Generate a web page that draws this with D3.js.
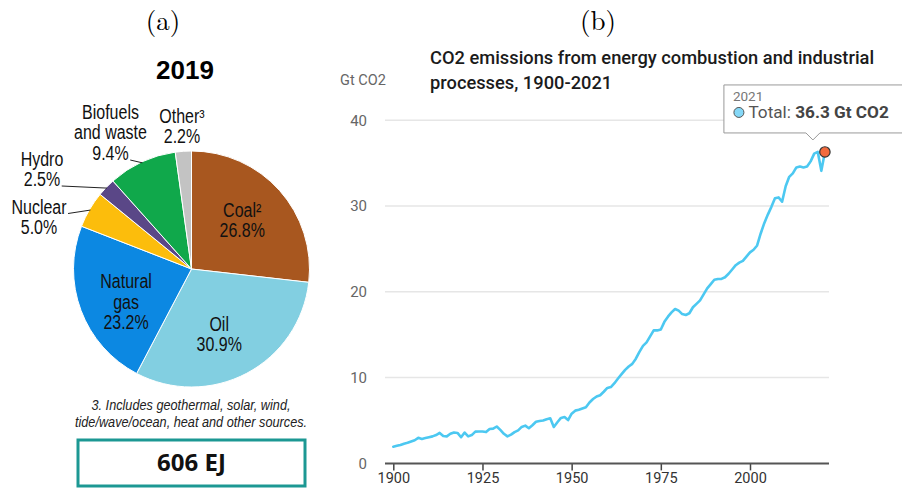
<!DOCTYPE html>
<html>
<head>
<meta charset="utf-8">
<script src="https://cdn.jsdelivr.net/npm/d3@7"></script>
<style>
  html, body { margin: 0; padding: 0; background: #fff; }
  svg { display: block; }
</style>
</head>
<body>
<svg id="fig" width="902" height="488"></svg>
<script>
// ---------- Panel (a): world energy supply by source, 2019 ----------
const pieYear = "2019";
const pieSources = ["Coal²", "Oil", "Natural gas", "Nuclear", "Hydro", "Biofuels and waste", "Other³"];
const pieShares = [26.8, 30.9, 23.2, 5.0, 2.5, 9.4, 2.2];
const pieColors = ["#a8571f", "#82cfe1", "#0c88e2", "#fcbd0c", "#5a4787", "#10a84b", "#c3c3c3"];
const pieTotal = "606 EJ";
const pieFootnote = ["3. Includes geothermal, solar, wind,", "tide/wave/ocean, heat and other sources."];

// ---------- Panel (b): CO2 emissions, Gt CO2 ----------
const years = d3.range(1900, 2022);
const emissions = [
  1.95, 2.05, 2.15, 2.3, 2.4, 2.55, 2.7, 2.98, 2.85, 2.95,        // 1900s
  3.05, 3.15, 3.3, 3.55, 3.2, 3.15, 3.45, 3.6, 3.55, 3.05,        // 1910s
  3.6, 3.15, 3.3, 3.7, 3.72, 3.72, 3.65, 4.0, 4.05, 4.3,          // 1920s
  3.9, 3.45, 3.15, 3.35, 3.65, 3.85, 4.25, 4.4, 4.1, 4.45,        // 1930s
  4.85, 4.95, 5.0, 5.15, 5.25, 4.25, 4.8, 5.3, 5.4, 5.05,         // 1940s
  5.8, 6.15, 6.25, 6.4, 6.55, 7.1, 7.5, 7.8, 7.95, 8.35,          // 1950s
  8.8, 8.9, 9.35, 9.9, 10.4, 10.9, 11.3, 11.6, 12.2, 13.0,        // 1960s
  13.7, 14.1, 14.8, 15.5, 15.5, 15.6, 16.5, 17.1, 17.6, 18.0,     // 1970s
  17.8, 17.4, 17.3, 17.5, 18.2, 18.6, 19.0, 19.7, 20.4, 20.9,     // 1980s
  21.4, 21.5, 21.5, 21.7, 22.1, 22.6, 23.1, 23.4, 23.6, 24.1,     // 1990s
  24.6, 24.9, 25.4, 26.8, 28.0, 29.0, 29.9, 30.9, 31.0, 30.5,     // 2000s
  32.3, 33.4, 33.8, 34.5, 34.6, 34.5, 34.6, 35.2, 36.1, 36.3,     // 2010s
  34.1, 36.3                                                      // 2020-2021
];
const xTicks = [1900, 1925, 1950, 1975, 2000];
const yTicks = [0, 10, 20, 30, 40];
const chartTitle = ["CO2 emissions from energy combustion and industrial", "processes, 1900-2021"];
const yUnit = "Gt CO2";

const svg = d3.select("#fig");
const labelFont = "'Liberation Sans', Arial, sans-serif";
const serif = "'Latin Modern Roman', 'Liberation Serif', 'Times New Roman', serif";
const sans = "Roboto, 'Noto Sans', sans-serif";
const squeeze = 0.82;   // horizontal condensing for the pie panel's narrow lettering

// multi-line, horizontally condensed text block centred on (x, y of first baseline)
function narrowText(parent, x, y, lines, lh, size, extra) {
  const g = parent.append("g").attr("transform", `translate(${x},${y}) scale(${squeeze},1)`);
  const t = g.append("text").attr("text-anchor", "middle")
    .style("font-family", labelFont).style("font-size", size + "px").style("fill", "#111");
  if (extra) extra(t);
  return lines.map((ln, k) => t.append("tspan").attr("x", 0).attr("y", k * lh).text(ln));
}

// panel letters
svg.append("text").attr("x", 163).attr("y", 30).attr("text-anchor", "middle")
  .style("font-family", serif).style("font-size", "27px").text("(a)");
svg.append("text").attr("x", 598).attr("y", 30).attr("text-anchor", "middle")
  .style("font-family", serif).style("font-size", "27px").text("(b)");

// ---------- pie ----------
const cx = 191.5, cy = 269, R = 118;
const gA = svg.append("g");

gA.append("text").attr("x", 185).attr("y", 79).attr("text-anchor", "middle")
  .style("font-family", labelFont).style("font-weight", "700")
  .style("font-size", "26px").text(pieYear);

const pieData = pieSources.map((s, i) => ({ name: s, share: pieShares[i], color: pieColors[i] }));
const arcs = d3.pie().value(d => d.share).sort(null)(pieData);
const arc = d3.arc().innerRadius(0).outerRadius(R);
const pieG = gA.append("g").attr("transform", `translate(${cx},${cy})`);
pieG.selectAll("path").data(arcs).join("path")
  .attr("d", arc).attr("fill", d => d.data.color)
  .attr("stroke", "#fff").attr("stroke-width", 1);

const fmt = d => d3.format(".1f")(d) + "%";
const lh = 20.5;

// inside labels, placed at the slice centroid with a small nudge
const inner = {
  "Coal²": { lines: ["Coal²"], nx: -3, ny: 0 },
  "Oil": { lines: ["Oil"], nx: -6, ny: 2.5 },
  "Natural gas": { lines: ["Natural", "gas"], nx: 2, ny: 8.5 }
};
const labelArc = d3.arc().innerRadius(72).outerRadius(72);
arcs.filter(a => inner[a.data.name]).forEach(a => {
  const spec = inner[a.data.name];
  const lines = spec.lines.concat([fmt(a.data.share)]);
  const [lx, ly] = labelArc.centroid(a);
  const y0 = ly - (lines.length - 1) * lh / 2 + 6 + spec.ny;
  narrowText(pieG, lx + spec.nx, y0, lines, lh, 19.5);
});

// outside labels: offsets from the pie centre, and which line the leader starts at
const outer = [
  { name: "Nuclear", lines: ["Nuclear"], dx: -152.5, dy: -55.5, lead: 0 },
  { name: "Hydro", lines: ["Hydro"], dx: -149.5, dy: -103.5, lead: 1 },
  { name: "Biofuels and waste", lines: ["Biofuels", "and waste"], dx: -81, dy: -150, lead: 2 },
  { name: "Other³", lines: ["Other³"], dx: -9.5, dy: -146, lead: -1 }
];
const edgeArc = d3.arc().innerRadius(R - 1).outerRadius(R - 1);
outer.forEach(o => {
  const a = arcs.find(d => d.data.name === o.name);
  const lines = o.lines.concat([fmt(a.data.share)]);
  const spans = narrowText(pieG, o.dx, o.dy, lines, lh, 19.5);
  if (o.lead >= 0) {
    const w = spans[o.lead].node().getComputedTextLength() * squeeze;
    const sx = o.dx + w / 2 + 1.5, sy = o.dy + o.lead * lh;
    const [ex, ey] = edgeArc.centroid(a);
    pieG.append("line").attr("x1", sx).attr("y1", sy).attr("x2", ex).attr("y2", ey)
      .attr("stroke", "#222").attr("stroke-width", 1);
  }
});

// footnote
narrowText(gA, 191, 410, pieFootnote, 17, 15.5, t => t.style("font-style", "italic").style("fill", "#222"));

// total box
gA.append("rect").attr("x", 78).attr("y", 440).attr("width", 227).attr("height", 46)
  .attr("fill", "#fff").attr("stroke", "#1c9893").attr("stroke-width", 3);
gA.append("text").attr("x", 191.5).attr("y", 471).attr("text-anchor", "middle")
  .style("font-family", "'Open Sans', 'Liberation Sans', sans-serif").style("font-weight", "700")
  .style("font-size", "24px").style("fill", "#111").text(pieTotal);

// ---------- line chart ----------
const plotL = 385, plotR = 829;
const x = d3.scaleLinear().domain([1900, 2000]).range([393.3, 750]);
const y = d3.scaleLinear().domain([0, 40]).range([463.4, 120.2]);
const gB = svg.append("g");

// title
const tt = gB.append("text").style("font-family", sans).style("font-weight", "500")
  .style("font-size", "18.3px").style("fill", "#1b1b1b");
chartTitle.forEach((ln, k) => tt.append("tspan").attr("x", 430).attr("y", 63.5 + k * 25.5).text(ln));

gB.append("text").attr("x", 340).attr("y", 85).style("font-family", sans)
  .style("font-size", "14.5px").style("fill", "#666").text(yUnit);

// grid
gB.selectAll("line.grid").data(yTicks.filter(v => v > 0)).join("line").attr("class", "grid")
  .attr("x1", plotL).attr("x2", plotR).attr("y1", d => y(d)).attr("y2", d => y(d))
  .attr("stroke", "#e6e6e6").attr("stroke-width", 1.5);

// y axis labels
const yAxis = gB.append("g").attr("transform", `translate(${plotL},0)`)
  .call(d3.axisLeft(y).tickValues(yTicks).tickSize(0).tickPadding(18));
yAxis.select(".domain").remove();
yAxis.selectAll("text").style("font-family", sans).style("font-size", "15px").style("fill", "#666");

// x axis
const xAxis = gB.append("g").attr("transform", `translate(0,${y(0)})`)
  .call(d3.axisBottom(x).tickValues(xTicks).tickFormat(d3.format("d")).tickSize(7).tickPadding(2));
xAxis.select(".domain").remove();
xAxis.selectAll(".tick line").attr("stroke", "#444").attr("stroke-width", 1.5);
xAxis.selectAll("text").style("font-family", sans).style("font-size", "14.5px").style("fill", "#333");
gB.append("line").attr("x1", plotL).attr("x2", plotR).attr("y1", y(0)).attr("y2", y(0))
  .attr("stroke", "#555").attr("stroke-width", 2);

// series
const series = years.map((yr, i) => ({ year: yr, value: emissions[i] }));
gB.append("path").datum(series)
  .attr("d", d3.line().x(d => x(d.year)).y(d => y(d.value)))
  .attr("fill", "none").attr("stroke", "#4cc8f1").attr("stroke-width", 2.6)
  .attr("stroke-linejoin", "round").attr("stroke-linecap", "round");

// highlighted last point with tooltip
const last = series[series.length - 1];
const px = x(last.year), py = y(last.value);
const tipX = px - 12, tipY = py - 12;
const boxL = tipX - 89, boxT = tipY - 55, boxB = tipY - 7, boxR = 915;
gB.append("path")
  .attr("d", `M${boxL},${boxT}H${boxR}V${boxB}H${tipX + 7}L${tipX},${tipY}L${tipX - 7},${boxB}H${boxL}Z`)
  .attr("fill", "#fff").attr("stroke", "#999").attr("stroke-width", 1);
gB.append("text").attr("x", boxL + 9).attr("y", boxT + 16).style("font-family", sans)
  .style("font-size", "13.5px").style("fill", "#777").text(String(last.year));
gB.append("circle").attr("cx", boxL + 15).attr("cy", boxT + 27.5).attr("r", 5)
  .attr("fill", "#85d8f7").attr("stroke", "#555").attr("stroke-width", 1);
const tl = gB.append("text").attr("x", boxL + 24.5).attr("y", boxT + 33.5).style("font-family", sans)
  .style("font-size", "17.2px").style("fill", "#555");
tl.append("tspan").text("Total: ");
tl.append("tspan").style("font-weight", "700").style("fill", "#444").text(`${last.value} ${yUnit}`);

gB.append("circle").attr("cx", px).attr("cy", py).attr("r", 5.2)
  .attr("fill", "#f26a3d").attr("stroke", "#333").attr("stroke-width", 1.2);
</script>
</body>
</html>
